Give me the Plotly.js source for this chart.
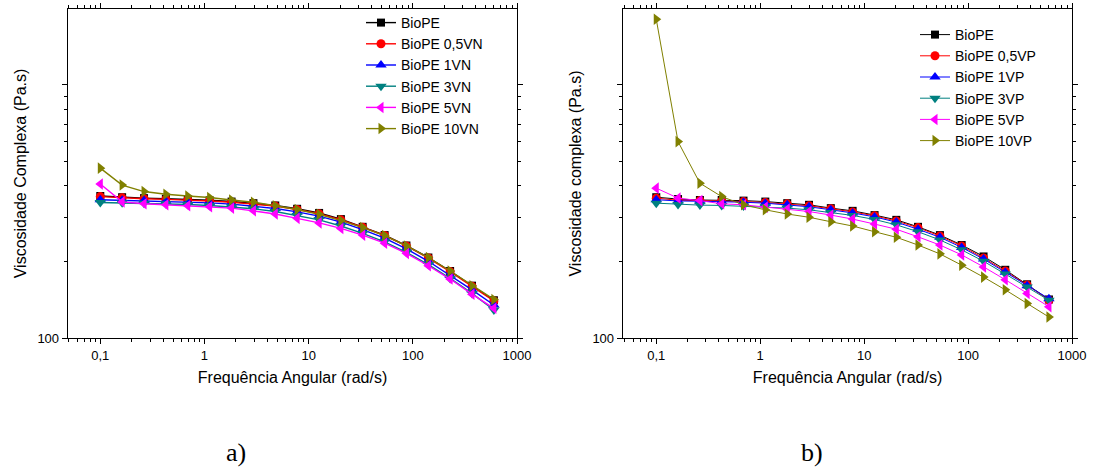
<!DOCTYPE html>
<html>
<head>
<meta charset="utf-8">
<script src="https://cdn.plot.ly/plotly-3.0.1.min.js"></script>
<style>html,body{margin:0;padding:0;background:#fff;}#chart{width:1093px;height:467px;}</style>
</head>
<body>
<div id="chart"></div>
<script>
// Angular frequency (rad/s)
const freq = [0.1, 0.162, 0.263, 0.426, 0.691, 1.12, 1.82, 2.95, 4.78, 7.75, 12.6, 20.4, 33.0, 53.6, 86.8, 141, 228, 370, 600];

// Panel a) complex viscosity (Pa.s)
const namesA = ['BioPE', 'BioPE 0,5VN', 'BioPE 1VN', 'BioPE 3VN', 'BioPE 5VN', 'BioPE 10VN'];
const bioPE_a  = [364, 360, 357, 355, 353, 350, 346, 341, 334, 324, 312, 295, 275, 255, 232, 208, 184, 161, 141];
const vn05     = [362, 358, 355, 353, 351, 348, 344, 339, 332, 322, 310, 293, 274, 254, 231, 207, 183, 160, 140];
const vn1      = [352, 350, 349, 347, 345, 342, 338, 332, 325, 315, 303, 287, 268, 248, 225, 201, 177, 155, 135];
const vn3      = [343, 342, 341, 339, 337, 334, 330, 324, 316, 305, 293, 277, 259, 240, 218, 195, 172, 150, 129];
const vn5      = [406, 345, 339, 336, 333, 330, 326, 318, 309, 297, 285, 271, 255, 237, 216, 193, 171, 149, 131];
const vn10     = [469, 402, 379, 370, 364, 359, 351, 344, 333, 322, 308, 291, 273, 254, 231, 208, 184, 161, 142];

// Panel b) complex viscosity (Pa.s)
const namesB = ['BioPE', 'BioPE 0,5VP', 'BioPE 1VP', 'BioPE 3VP', 'BioPE 5VP', 'BioPE 10VP'];
const bioPE_b  = [360, 354, 351, 351, 349, 346, 341, 336, 326, 318, 306, 293, 275, 255, 233, 210, 186, 163, 142];
const vp05     = [357, 350, 349, 348, 346, 343, 339, 333, 324, 315, 304, 290, 273, 253, 231, 207, 184, 162, 141];
const vp1      = [352, 348, 347, 346, 344, 341, 336, 330, 321, 312, 301, 287, 269, 250, 228, 205, 182, 161, 143];
const vp3      = [341, 337, 335, 334, 332, 330, 326, 321, 313, 305, 294, 280, 263, 244, 223, 201, 179, 159, 141];
const vp5      = [391, 357, 349, 339, 336, 329, 323, 316, 306, 295, 282, 269, 251, 233, 213, 191, 170, 150, 133];
const vp10     = [1818, 597, 409, 362, 336, 321, 309, 300, 288, 277, 263, 250, 233, 215, 194, 174, 155, 137, 121];

const xTickVals = [0.1, 1, 10, 100, 1000];
const xTickText = ['0,1', '1', '10', '100', '1000'];
const yTickVals = [100, 1000];
const yTickText = ['100', ''];

const colors  = ['#000000', '#ff0000', '#0000ff', '#008080', '#ff00ff', '#808000'];
const symbols = ['square', 'circle', 'triangle-up', 'triangle-down', 'triangle-left', 'triangle-right'];
const sizes   = [8, 9, 10, 10, 10, 10];

const seriesA = [bioPE_a, vn05, vn1, vn3, vn5, vn10];
const seriesB = [bioPE_b, vp05, vp1, vp3, vp5, vp10];

const traces = [];
seriesA.forEach((ys, i) => traces.push({
  x: freq, y: ys, name: namesA[i], type: 'scatter', mode: 'lines+markers',
  xaxis: 'x', yaxis: 'y', legend: 'legend',
  line: {color: colors[i], width: 1.4},
  marker: {symbol: symbols[i], size: sizes[i], color: colors[i]}
}));
seriesB.forEach((ys, i) => traces.push({
  x: freq, y: ys, name: namesB[i], type: 'scatter', mode: 'lines+markers',
  xaxis: 'x2', yaxis: 'y2', legend: 'legend2',
  line: {color: colors[i], width: 1},
  marker: {symbol: symbols[i], size: sizes[i], color: colors[i]}
}));

// minor tick positions (axis decoration)
const minorX = [];
for (let e = -2; e <= 2; e++) for (let d = 2; d <= 9; d++) minorX.push(d * Math.pow(10, e));
const minorY = [];
for (let e = 2; e <= 3; e++) for (let d = 2; d <= 9; d++) minorY.push(d * Math.pow(10, e));

const W = 1093, H = 467;
const yDom = [1 - 338 / H, 1 - 9 / H];

function xAx(dom, range) {
  return {
    type: 'log', range: range, domain: dom, showline: true, mirror: 'ticks',
    linecolor: '#000', linewidth: 1.3, ticks: 'outside', ticklen: 5, tickwidth: 1, tickcolor: '#000',
    tickmode: 'array', tickvals: xTickVals, ticktext: xTickText,
    minor: {tickmode: 'array', tickvals: minorX, ticklen: 3, tickwidth: 1, tickcolor: '#000', ticks: 'outside', showgrid: false},
    showgrid: false, zeroline: false, automargin: false,
    tickfont: {size: 13, color: '#000'},
    title: {text: 'Frequência Angular (rad/s)', font: {size: 16, color: '#000'}, standoff: 10}
  };
}
function yAx(anchor, title) {
  return {
    type: 'log', range: [2, 3.3], domain: yDom, anchor: anchor, showline: true, mirror: 'ticks',
    linecolor: '#000', linewidth: 1.3, ticks: 'outside', ticklen: 5, tickwidth: 1, tickcolor: '#000',
    tickmode: 'array', tickvals: yTickVals, ticktext: yTickText,
    minor: {tickmode: 'array', tickvals: minorY, ticklen: 3, tickwidth: 1, tickcolor: '#000', ticks: 'outside', showgrid: false},
    showgrid: false, zeroline: false, automargin: false,
    tickfont: {size: 13, color: '#000'},
    title: {text: title, font: {size: 16, color: '#000'}}
  };
}

const layout = {
  width: W, height: H,
  margin: {l: 0, r: 0, t: 0, b: 0},
  paper_bgcolor: '#fff', plot_bgcolor: '#fff',
  font: {family: '"Liberation Sans", Arial, sans-serif', color: '#000'},
  showlegend: true,
  xaxis: Object.assign(xAx([68 / W, 517 / W], [-1.31, 3]), {anchor: 'y'}),
  yaxis: yAx('x', 'Viscosidade Complexa (Pa.s)'),
  xaxis2: Object.assign(xAx([623 / W, 1072 / W], [-1.32, 3]), {anchor: 'y2'}),
  yaxis2: yAx('x2', 'Viscosidade complexa (Pa.s)'),
  legend: {x: 361 / W, y: 1 - 7 / H, xanchor: 'left', yanchor: 'top', bgcolor: 'rgba(0,0,0,0)',
           font: {size: 14, color: '#000'}, tracegroupgap: 0, itemwidth: 30},
  legend2: {x: 915 / W, y: 1 - 19 / H, xanchor: 'left', yanchor: 'top', bgcolor: 'rgba(0,0,0,0)',
            font: {size: 14, color: '#000'}, tracegroupgap: 0, itemwidth: 30},
  annotations: [
    {text: 'a)', x: 236 / W, y: 1 - 452 / H, xref: 'paper', yref: 'paper', showarrow: false,
     xanchor: 'center', yanchor: 'middle', font: {family: '"Liberation Serif", "Times New Roman", serif', size: 26, color: '#000'}},
    {text: 'b)', x: 812 / W, y: 1 - 452 / H, xref: 'paper', yref: 'paper', showarrow: false,
     xanchor: 'center', yanchor: 'middle', font: {family: '"Liberation Serif", "Times New Roman", serif', size: 26, color: '#000'}}
  ]
};

Plotly.newPlot('chart', traces, layout, {displayModeBar: false, staticPlot: true});
</script>
</body>
</html>
